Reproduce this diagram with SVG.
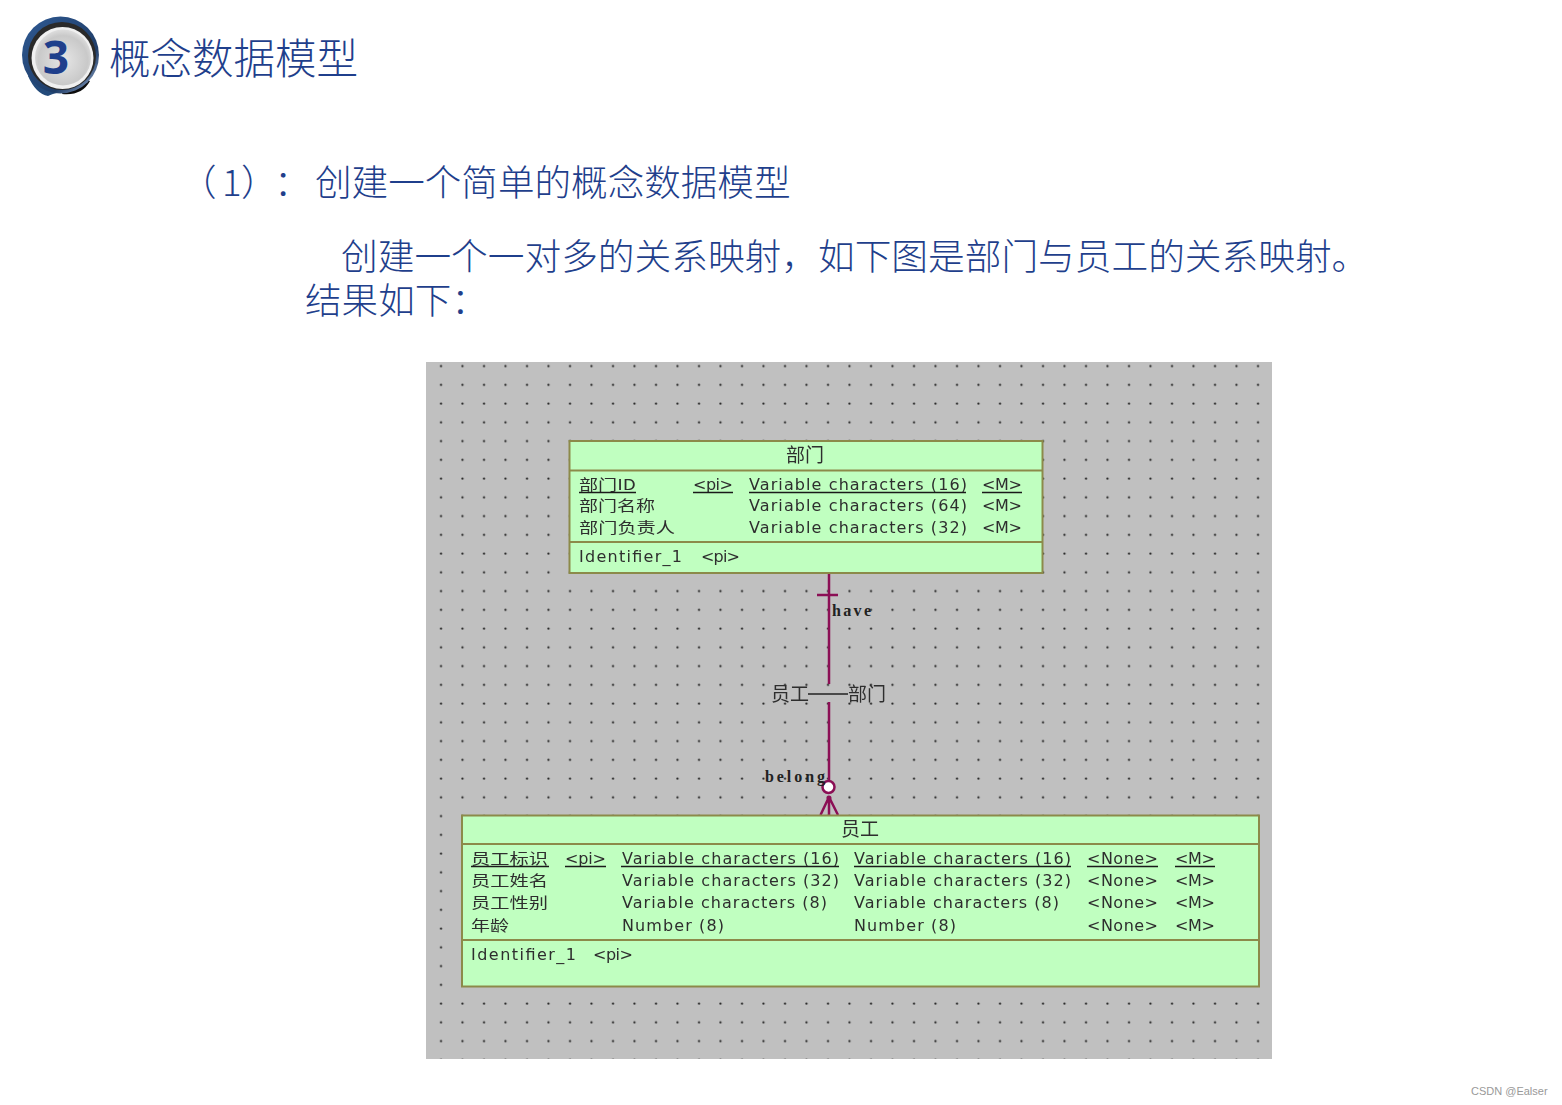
<svg xmlns="http://www.w3.org/2000/svg" width="1562" height="1105" viewBox="0 0 1562 1105">
<style>
.h{font-family:"Noto Sans CJK SC",sans-serif;fill:#1f3f8c;font-weight:300}
.t{font-family:"DejaVu Sans","Noto Sans CJK SC",sans-serif;font-size:16px;fill:#2e2e2e;filter:url(#soft)}
.c{font-family:"Noto Sans CJK SC",sans-serif;font-size:19px;fill:#2e2e2e;filter:url(#soft)}
.k{font-family:"Noto Sans CJK SC",sans-serif;font-size:15px;fill:#2e2e2e;filter:url(#soft)}
.box{fill:#c0ffc0;stroke:#8c8a4a;stroke-width:2}
.sep{stroke:#8c8a4a;stroke-width:2}
.u{stroke:#1a1a1a;stroke-width:1.5}
.conn{stroke:#8b0f55;stroke-width:2.500;fill:none}
.r{font-family:"Liberation Serif",serif;font-size:16px;font-weight:bold;fill:#222}
</style>
<defs>
<filter id="soft" x="-5%" y="-20%" width="110%" height="140%"><feGaussianBlur stdDeviation="0.35"/></filter>
<pattern id="dots" patternUnits="userSpaceOnUse" x="430" y="356.6" width="21.5" height="18.75"><circle cx="11" cy="9.6" r="1.1" fill="#222"/></pattern>
<radialGradient id="disc" cx="50%" cy="55%" r="55%"><stop offset="0" stop-color="#e6e6e6"/><stop offset="0.8" stop-color="#c9c9c9"/><stop offset="1" stop-color="#dedede"/></radialGradient>
<linearGradient id="ring" x1="0" y1="0" x2="1" y2="1"><stop offset="0" stop-color="#2f5a94"/><stop offset="0.7" stop-color="#1f3d68"/><stop offset="1" stop-color="#9fb4d4"/></linearGradient>
</defs>
<rect width="1562" height="1105" fill="#fff"/>
<g id="badge">
<path d="M28 76Q36 94 48 96Q56 92 66 92L50 70Z" fill="#234a7a"/>
<path d="M62 94Q82 96 90 81L70 75Z" fill="#0d0d0d"/>
<circle cx="60.500" cy="55" r="38.500" fill="url(#ring)"/>
<circle cx="62" cy="56" r="34" fill="#2a2a2a"/>
<circle cx="62.500" cy="58" r="31" fill="#f0f0f0"/>
<circle cx="63" cy="57.500" r="28" fill="url(#disc)"/>
<text x="56" y="74" text-anchor="middle" font-family="Open Sans,sans-serif" font-weight="700" font-size="46" fill="#1f3f8c">3</text>
</g>
<text class="h" x="109" y="74" font-size="41.500">概念数据模型</text>
<text class="h" x="180" y="196" font-size="36.600">（</text>
<text class="h" x="222" y="196" font-size="36.600">1</text>
<text class="h" x="241" y="196" font-size="36.600">）</text>
<text class="h" x="274" y="196" font-size="36.600">：</text>
<text class="h" x="315" y="196" font-size="36.600">创建一个简单的概念数据模型</text>
<text class="h" x="341" y="270" font-size="36.700">创建一个一对多的关系映射，如下图是部门与员工的关系映射。</text>
<text class="h" x="305" y="314" font-size="36.600">结果如下：</text>
<g id="canvas">
<rect x="426" y="362" width="846" height="697" fill="#c0c0c0"/>
<rect x="426" y="362" width="846" height="697" fill="url(#dots)"/>
</g>
<g id="connectors">
<path class="conn" d="M829 574V684M829 702V782M817 595H838M829 797L820.500 815M829 797V815M829 797L838 815"/>
<circle cx="828.500" cy="787" r="6" fill="#fff" stroke="#8b0f55" stroke-width="2.500"/>
<circle cx="829" cy="798" r="2.500" fill="#8b0f55"/>
<text class="r" x="832" y="616" textLength="39">have</text>
<text class="r" x="765" y="782" textLength="60">belong</text>
<text class="c" x="771" y="701">员工</text>
<line x1="808" y1="694" x2="848" y2="694" stroke="#222" stroke-width="1.500"/>
<text class="c" x="848" y="701">部门</text>
</g>
<g id="dept">
<rect class="box" x="569.500" y="441" width="473" height="132"/>
<path class="sep" d="M570 470.500H1042M570 542H1042"/>
<text class="c" x="786" y="462">部门</text>
<text class="k" x="579" y="490" textLength="57" lengthAdjust="spacingAndGlyphs">部门ID</text>
<text class="t" x="693" y="490" textLength="40">&lt;pi&gt;</text>
<text class="t" x="749" y="490" textLength="218">Variable characters (16)</text>
<text class="t" x="982" y="490" textLength="40">&lt;M&gt;</text>
<path class="u" d="M579 492.500H636M693 492.500H733M749 492.500H966M982 492.500H1022"/>
<text class="k" x="579" y="511" textLength="76" lengthAdjust="spacingAndGlyphs">部门名称</text>
<text class="t" x="749" y="511" textLength="218">Variable characters (64)</text>
<text class="t" x="982" y="511" textLength="40">&lt;M&gt;</text>
<text class="k" x="579" y="533" textLength="96" lengthAdjust="spacingAndGlyphs">部门负责人</text>
<text class="t" x="749" y="533" textLength="218">Variable characters (32)</text>
<text class="t" x="982" y="533" textLength="40">&lt;M&gt;</text>
<text class="t" x="579" y="562" textLength="103">Identifier_1</text>
<text class="t" x="701" y="562" textLength="39">&lt;pi&gt;</text>
</g>
<g id="emp">
<rect class="box" x="462" y="815.500" width="797" height="171"/>
<path class="sep" d="M462 844H1259M462 940H1259"/>
<text class="c" x="841" y="836">员工</text>
<text class="k" x="471" y="864" textLength="77" lengthAdjust="spacingAndGlyphs">员工标识</text>
<text class="t" x="565" y="864" textLength="41">&lt;pi&gt;</text>
<text class="t" x="622" y="864" textLength="217">Variable characters (16)</text>
<text class="t" x="854" y="864" textLength="217">Variable characters (16)</text>
<text class="t" x="1087" y="864" textLength="71">&lt;None&gt;</text>
<text class="t" x="1175" y="864" textLength="40">&lt;M&gt;</text>
<path class="u" d="M471 866.500H549M565 866.500H606M621 866.500H839M854 866.500H1071M1087 866.500H1158M1175 866.500H1215"/>
<text class="k" x="471" y="886" textLength="77" lengthAdjust="spacingAndGlyphs">员工姓名</text>
<text class="t" x="622" y="886" textLength="217">Variable characters (32)</text>
<text class="t" x="854" y="886" textLength="217">Variable characters (32)</text>
<text class="t" x="1087" y="886" textLength="71">&lt;None&gt;</text>
<text class="t" x="1175" y="886" textLength="40">&lt;M&gt;</text>
<text class="k" x="471" y="908" textLength="77" lengthAdjust="spacingAndGlyphs">员工性别</text>
<text class="t" x="622" y="908" textLength="205">Variable characters (8)</text>
<text class="t" x="854" y="908" textLength="205">Variable characters (8)</text>
<text class="t" x="1087" y="908" textLength="71">&lt;None&gt;</text>
<text class="t" x="1175" y="908" textLength="40">&lt;M&gt;</text>
<text class="k" x="471" y="931" textLength="38" lengthAdjust="spacingAndGlyphs">年龄</text>
<text class="t" x="622" y="931" textLength="102">Number (8)</text>
<text class="t" x="854" y="931" textLength="102">Number (8)</text>
<text class="t" x="1087" y="931" textLength="71">&lt;None&gt;</text>
<text class="t" x="1175" y="931" textLength="40">&lt;M&gt;</text>
<text class="t" x="471" y="960" textLength="105">Identifier_1</text>
<text class="t" x="593" y="960" textLength="40">&lt;pi&gt;</text>
</g>
<text x="1471" y="1095" font-family="Liberation Sans,sans-serif" font-size="11" fill="#999">CSDN @Ealser</text>
</svg>
